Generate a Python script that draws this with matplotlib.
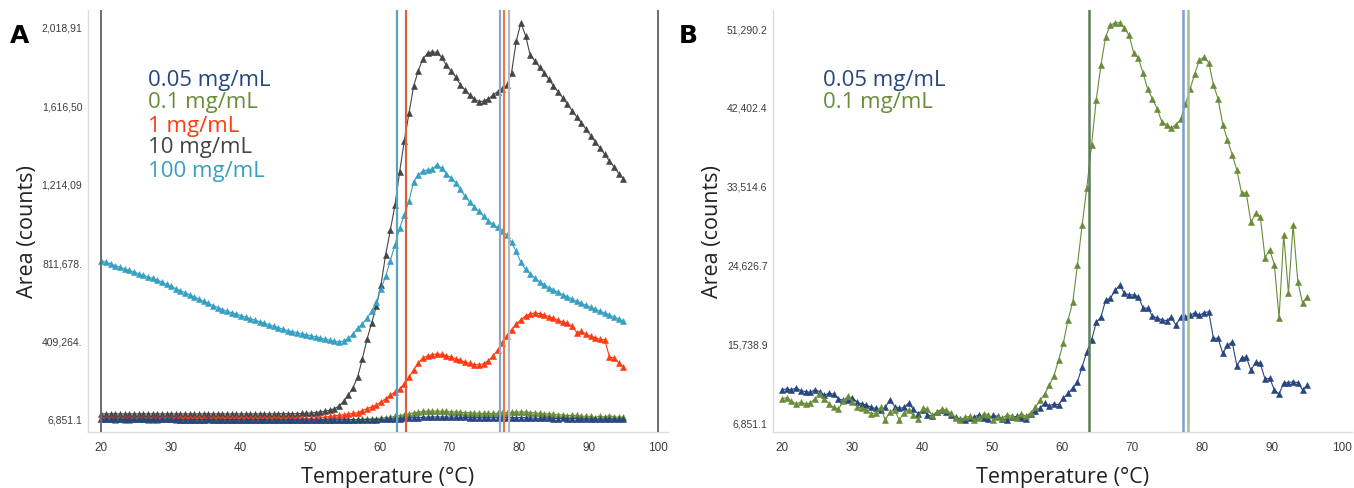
import numpy as np
import matplotlib
matplotlib.use("Agg")
import matplotlib.pyplot as plt
from matplotlib.ticker import FixedLocator, FixedFormatter

plt.rcParams['font.family'] = ['Open Sans', 'DejaVu Sans']

# measurement temperatures (°C), one reading about every 0.67 degrees
temps = np.linspace(20, 95, 113)

# panel A series, in thousands of counts
area_10 = [38, 38, 38, 38, 38, 38, 38, 38, 38, 38,
           38, 38, 38, 38, 38, 38, 38, 38, 38, 38,
           38, 38, 38, 38, 38, 38, 38, 38, 38, 38,
           38, 38, 38, 38, 38, 38, 38, 38, 39, 39,
           39, 39, 39, 40, 41, 43, 45, 48, 52, 57,
           64, 78, 103, 133, 173, 228, 320, 420, 505, 590,
           700, 855, 980, 1110, 1280, 1440, 1580, 1720, 1800, 1862,
           1888, 1896, 1893, 1868, 1828, 1800, 1768, 1728, 1700, 1675,
           1654, 1641, 1643, 1655, 1673, 1692, 1705, 1725, 1790, 1950,
           2045, 1980, 1880, 1850, 1818, 1789, 1755, 1722, 1690, 1660,
           1626, 1595, 1562, 1531, 1498, 1466, 1433, 1402, 1370, 1336,
           1305, 1271, 1245]

area_100 = [824, 816, 808, 799, 791, 783, 774, 766, 758, 749,
            741, 733, 725, 714, 703, 692, 681, 670, 660, 649,
            638, 627, 616, 605, 594, 584, 573, 565, 557, 550,
            542, 534, 527, 519, 511, 503, 496, 488, 480, 473,
            465, 460, 455, 449, 444, 439, 434, 428, 422, 416,
            411, 408, 412, 425, 448, 478, 500, 528, 565, 612,
            680, 745, 825, 905, 990, 1060, 1130, 1230, 1265, 1285,
            1290, 1295, 1316, 1298, 1270, 1250, 1225, 1190, 1155, 1125,
            1100, 1077, 1052, 1028, 1012, 995, 978, 955, 918, 872,
            815, 780, 757, 735, 716, 700, 686, 674, 662, 650,
            639, 628, 615, 605, 595, 585, 575, 565, 555, 545,
            535, 525, 515]

area_1 = [15, 15, 15, 15, 15, 15, 15, 15, 15, 15,
          15, 15, 15, 15, 15, 15, 15, 15, 15, 15,
          15, 15, 15, 15, 15, 15, 15, 15, 15, 15,
          15, 15, 15, 15, 15, 15, 15, 15, 15, 15,
          15, 15, 15, 15, 15, 16, 17, 19, 22, 25,
          28, 31, 34, 37, 40, 44, 55, 65, 74, 83,
          100, 116, 133, 150, 166, 190, 225, 265, 298, 326,
          336, 342, 346, 343, 337, 330, 322, 313, 304, 297,
          291, 290, 296, 310, 335, 365, 402, 440, 470, 498,
          522, 540, 552, 556, 553, 546, 537, 528, 518, 510,
          502, 488, 455, 462, 448, 436, 428, 420, 418, 330,
          324, 300, 279]

# low concentration series, counts (shared by both panels)
area_005 = [10600, 10700, 10600, 10800, 10500, 10400, 10300, 10600, 10400, 10000,
            10200, 10100, 9600, 9400, 9500, 9700, 9200, 9000, 8900, 8600,
            8500, 8300, 8600, 9500, 8700, 8500, 8600, 9100, 8400, 7900,
            8300, 7800, 7600, 8100, 8300, 8100, 7800, 7500, 7300, 7200,
            7400, 7500, 7800, 7400, 7300, 7700, 7600, 7300, 7200, 7500,
            7600, 7400, 7300, 7900, 8200, 8500, 9100, 8800, 9000, 8900,
            9670, 10200, 10800, 11500, 13200, 14900, 16200, 18200, 18800, 20700,
            20900, 21800, 22400, 21500, 21300, 21300, 21100, 19800, 19800, 18900,
            18700, 18500, 18400, 18800, 17900, 18800, 18800, 19000, 19300, 19000,
            19300, 19400, 16400, 16400, 14700, 15600, 16000, 13300, 14200, 14300,
            12800, 13700, 13600, 11800, 11900, 10600, 10100, 11400, 11400, 11500,
            11400, 10600, 11100]

area_01 = [9600, 9700, 9300, 9000, 9200, 9000, 9100, 9600, 10100, 9600,
           9000, 8600, 8400, 9300, 9900, 9200, 8700, 8500, 8300, 7900,
           8000, 8600, 7200, 8100, 8300, 7200, 8000, 8300, 7700, 7300,
           8500, 8400, 7700, 8100, 8400, 8300, 8000, 7400, 7200, 7500,
           7600, 7200, 7400, 7900, 7800, 7200, 7500, 7400, 7800, 7600,
           7400, 7900, 7600, 8000, 8600, 9400, 10100, 11100, 12200, 14000,
           15900, 18500, 20500, 24700, 29200, 33400, 38200, 43300, 47200, 50400,
           51700, 52000, 52000, 51400, 50600, 48600, 48000, 46300, 44500, 43400,
           42300, 40800, 40500, 40100, 40500, 41100, 42800, 44500, 46200, 47800,
           48100, 47500, 45000, 43400, 40500, 38800, 37100, 35400, 32800, 32800,
           29500, 30500, 30100, 25500, 26400, 24700, 18700, 28100, 21500, 29200,
           22800, 20400, 21100]

labels_a = ["0.05 mg/mL", "0.1 mg/mL", "1 mg/mL", "10 mg/mL", "100 mg/mL"]
labels_b = ["0.05 mg/mL", "0.1 mg/mL"]

# transition temperature markers
tm_a = [20, 100, 62.5, 63.8, 77.3, 77.9, 78.6]
tm_b = [63.8, 77.2, 78.0]

yticks_a = [6851.1, 409264.8, 811678.5, 1214092.2, 1616505.9, 2018919.6]
ylabels_a = ["6,851.1", "409,264.", "811,678.", "1,214,09", "1,616,50", "2,018,91"]
yticks_b = [6851.1, 15738.9, 24626.7, 33514.6, 42402.4, 51290.2]
ylabels_b = ["6,851.1", "15,738.9", "24,626.7", "33,514.6", "42,402.4", "51,290.2"]
xticks = [20, 30, 40, 50, 60, 70, 80, 90, 100]

c_005 = "#27467f"
c_01 = "#6a8c38"
c_1 = "#ff3a12"
c_10 = "#454545"
c_100 = "#36a0c2"

fig = plt.figure(figsize=(13.54, 4.88), dpi=100)
ax_a = fig.add_axes([88/1354, 56/488, 580/1354, 422/488])
ax_b = fig.add_axes([773/1354, 56/488, 579/1354, 422/488])

mk = dict(marker="^", markersize=4.8, linewidth=0.8, markeredgewidth=0.4)

# panel A
t = temps
ax_a.plot(t, np.array(area_10) * 1000, color=c_10, **mk)
ax_a.plot(t, np.array(area_100) * 1000, color=c_100, **mk)
ax_a.plot(t, np.array(area_1) * 1000, color=c_1, **mk)
ax_a.plot(t, area_01, color=c_01, **mk)
ax_a.plot(t, area_005, color=c_005, **mk)

cols_a = ["#6d6d6d", "#6d6d6d", "#5ba3c0", "#d9623b", "#8ca7cc", "#e07b4a", "#b8b8b8"]
for x, c in zip(tm_a, cols_a):
    ax_a.axvline(x, color=c, linewidth=1.4 if x in (20, 100) else 1.6, zorder=3)

# panel B
ax_b.plot(t, area_005, color=c_005, **mk)
ax_b.plot(t, area_01, color=c_01, **mk)

cols_b = ["#5d7c5a", "#7f9fd0", "#a3c08a"]
for x, c in zip(tm_b, cols_b):
    ax_b.axvline(x, color=c, linewidth=1.8, zorder=3)

ax_a.set_xlim(18.1, 101.4)
ax_a.set_ylim(-55000, 2111000)
ax_b.set_xlim(18.7, 101.4)
ax_b.set_ylim(5836, 53437)

for ax, yt, yl in [(ax_a, yticks_a, ylabels_a), (ax_b, yticks_b, ylabels_b)]:
    ax.yaxis.set_major_locator(FixedLocator(yt))
    ax.yaxis.set_major_formatter(FixedFormatter(yl))
    ax.xaxis.set_major_locator(FixedLocator(xticks))
    ax.xaxis.set_major_formatter(FixedFormatter([str(v) for v in xticks]))
    for s in ["top", "right"]:
        ax.spines[s].set_visible(False)
    for s in ["left", "bottom"]:
        ax.spines[s].set_color("#dcdcdc")
        ax.spines[s].set_linewidth(1.0)
    ax.tick_params(axis="both", length=0, colors="#3c3c3c")
    ax.tick_params(axis="y", pad=4, labelsize=7.5)
    ax.tick_params(axis="x", pad=7, labelsize=8.5)
    for lab in ax.get_xticklabels() + ax.get_yticklabels():
        lab.set_fontfamily("Liberation Sans")
    ax.set_xlabel("Temperature (°C)", fontsize=15.5, color="#222222", va="center")
    ax.set_ylabel("Area (counts)", fontsize=15.5, color="#222222", va="center")
    ax.yaxis.set_label_coords(-0.105, 0.474)

ax_a.xaxis.set_label_coords(0.517, -0.107)
ax_b.xaxis.set_label_coords(0.50, -0.107)

# legends as coloured text
ys = [0.834, 0.780, 0.723, 0.673, 0.618]
for lab, col, y in zip(labels_a, [c_005, c_01, c_1, c_10, c_100], ys):
    ax_a.text(0.1034, y, lab, color=col, fontsize=16, va="center", transform=ax_a.transAxes)
for lab, col, y in zip(labels_b, [c_005, c_01], ys[:2]):
    ax_b.text(0.0864, y, lab, color=col, fontsize=16, va="center", transform=ax_b.transAxes)

fig.text(20/1354, 1 - 36/488, "A", fontsize=18, fontweight="bold", ha="center", va="center",
         family="DejaVu Sans")
fig.text(688/1354, 1 - 36/488, "B", fontsize=18, fontweight="bold", ha="center", va="center",
         family="DejaVu Sans")

fig.savefig("out.png", dpi=100)
